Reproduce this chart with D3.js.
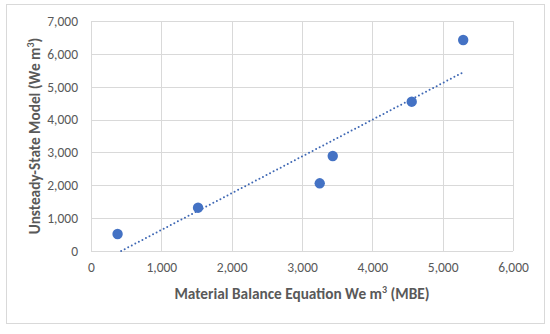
<!DOCTYPE html>
<html>
<head>
<meta charset="utf-8">
<script src="https://cdn.jsdelivr.net/npm/d3@7"></script>
<style>
  body { margin: 0; background: #fff; }
  #chart text { font-family: Carlito, Lato, "Open Sans", sans-serif; fill: #595959; }
</style>
</head>
<body>
<div id="chart"></div>
<script>
// values
var mbeValues = [378, 1522, 3252, 3437, 4560, 5292];
var unsteadyValues = [517, 1318, 2060, 2891, 4544, 6421];
var xTicks = [0, 1000, 2000, 3000, 4000, 5000, 6000];
var yTicks = [0, 1000, 2000, 3000, 4000, 5000, 6000, 7000];

var width = 550, height = 334;
var margin = {top: 21, right: 37, bottom: 83, left: 91};
var innerW = width - margin.left - margin.right,
    innerH = height - margin.top - margin.bottom;

var svg = d3.select("#chart").append("svg")
    .attr("width", width)
    .attr("height", height);

// chart border
svg.append("rect")
    .attr("x", 6.5).attr("y", 4.5)
    .attr("width", 538).attr("height", 319)
    .attr("fill", "none")
    .attr("stroke", "#d9d9d9");

var g = svg.append("g")
    .attr("transform", "translate(" + margin.left + "," + margin.top + ")");

var xScale = d3.scaleLinear().domain([0, 6000]).range([0, innerW]);
var yScale = d3.scaleLinear().domain([0, 7000]).range([innerH, 0]);
var fmt = d3.format(",d");

// gridlines
g.append("g")
    .selectAll("line").data(xTicks).enter().append("line")
    .attr("x1", function(d) { return Math.round(xScale(d)) + 0.5; })
    .attr("x2", function(d) { return Math.round(xScale(d)) + 0.5; })
    .attr("y1", 0).attr("y2", innerH)
    .attr("stroke", "#d9d9d9");
g.append("g")
    .selectAll("line").data(yTicks).enter().append("line")
    .attr("y1", function(d) { return Math.round(yScale(d)) + 0.5; })
    .attr("y2", function(d) { return Math.round(yScale(d)) + 0.5; })
    .attr("x1", 0).attr("x2", innerW)
    .attr("stroke", "#d9d9d9");

// axes (labels only)
var xAxis = d3.axisBottom(xScale).tickValues(xTicks).tickFormat(fmt).tickSize(0).tickPadding(11);
g.append("g")
    .attr("transform", "translate(0," + innerH + ")")
    .call(xAxis)
    .call(function(a) { a.select(".domain").remove(); })
    .selectAll("text").style("font-size", "13.5px");

var yAxis = d3.axisLeft(yScale).tickValues(yTicks).tickFormat(fmt).tickSize(0).tickPadding(13);
g.append("g")
    .call(yAxis)
    .call(function(a) { a.select(".domain").remove(); })
    .selectAll("text").style("font-size", "13.5px");

// linear trendline (least squares)
var n = mbeValues.length;
var mx = d3.mean(mbeValues), my = d3.mean(unsteadyValues);
var sxy = 0, sxx = 0;
for (i = 0; i < n; i++) {
    sxy += (mbeValues[i] - mx) * (unsteadyValues[i] - my);
    sxx += (mbeValues[i] - mx) * (mbeValues[i] - mx);
}
var slope = sxy / sxx, intercept = my - slope * mx;
var x0 = Math.max(d3.min(mbeValues), -intercept / slope);
var x1 = d3.max(mbeValues);
var trend = [{x: x0, y: slope * x0 + intercept}, {x: x1, y: slope * x1 + intercept}];

var lineFunction = d3.line()
    .x(function(d) { return xScale(d.x); })
    .y(function(d) { return yScale(d.y); });

g.append("path")
    .attr("d", lineFunction(trend))
    .attr("stroke", "#3f68b4")
    .attr("stroke-width", 2)
    .attr("stroke-dasharray", "0 4")
    .attr("stroke-linecap", "round")
    .attr("fill", "none");

// points
var points = mbeValues.map(function(d, i) { return {x: d, y: unsteadyValues[i]}; });
g.selectAll(".point").data(points).enter().append("circle")
    .attr("class", "point")
    .attr("r", 5.2)
    .attr("cx", function(d) { return xScale(d.x); })
    .attr("cy", function(d) { return yScale(d.y); })
    .attr("fill", "#4472c4");

// axis titles
svg.append("text")
    .attr("x", 302)
    .attr("y", 299)
    .attr("text-anchor", "middle")
    .style("font-size", "15.3px")
    .style("font-weight", "bold")
    .html("Material Balance Equation We m<tspan baseline-shift='super' font-size='10px'>3</tspan> (MBE)");

svg.append("text")
    .attr("transform", "translate(40," + (margin.top + innerH / 2) + ") rotate(-90)")
    .attr("text-anchor", "middle")
    .style("font-size", "15.3px")
    .style("font-weight", "bold")
    .html("Unsteady-State Model (We m<tspan baseline-shift='super' font-size='10px'>3</tspan>)");
</script>
</body>
</html>
